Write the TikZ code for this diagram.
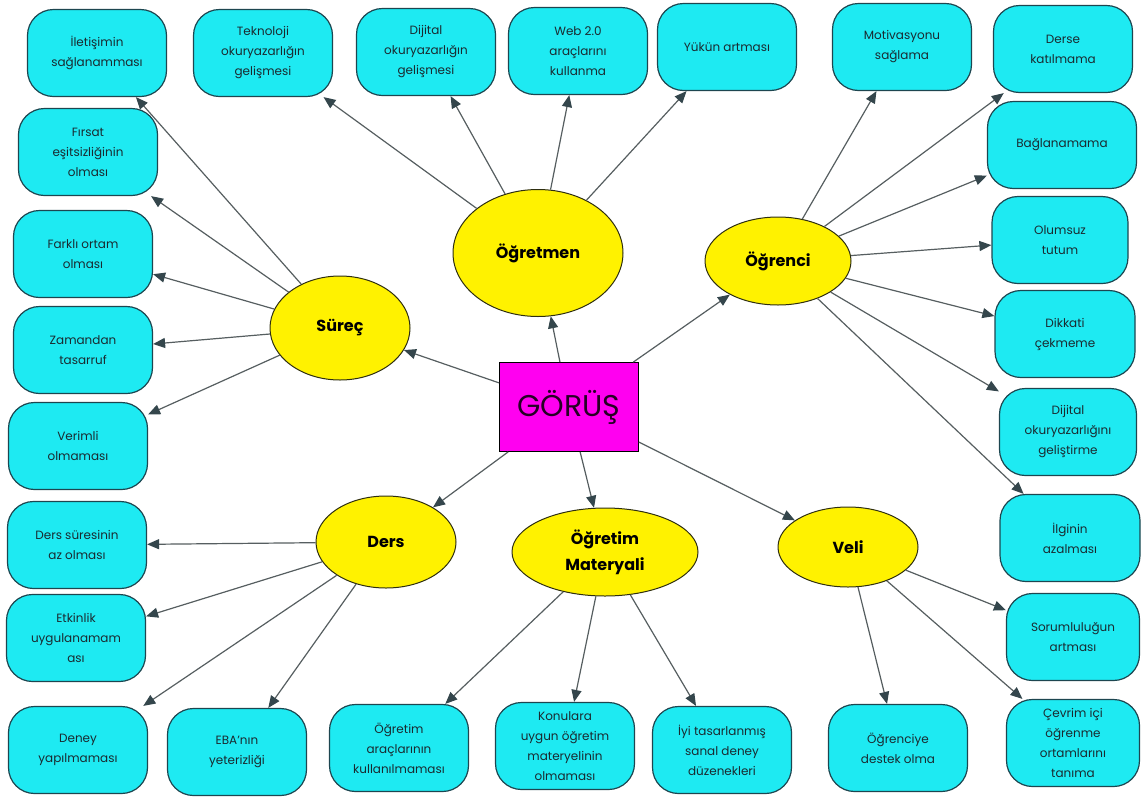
\documentclass[tikz,border=0pt]{standalone}
\usepackage{fontspec}
\setmainfont{Poppins}
\usetikzlibrary{shapes.geometric,arrows.meta}
\definecolor{boxfill}{HTML}{1EEAF2}
\definecolor{boxdraw}{HTML}{1D4650}
\definecolor{ellfill}{HTML}{FFF200}
\definecolor{elldraw}{HTML}{2E2E10}
\definecolor{mag}{HTML}{FF00F0}
\definecolor{linec}{HTML}{565E60}
\definecolor{tipc}{HTML}{34464C}
\definecolor{txtc}{HTML}{1A2A30}
\tikzset{
  leaf/.style={draw=boxdraw, fill=boxfill, line width=1.2pt, rounded corners=26pt,
    minimum width=#1, minimum height=87pt, align=center, inner sep=2pt,
    font=\fontsize{12}{20}\selectfont, text=txtc},
  leaf/.default=139pt,
  topic/.style={ellipse, draw=elldraw, fill=ellfill, line width=1pt, align=center,
    inner sep=0pt, font=\fontsize{16}{26}\selectfont\bfseries, text=black},
  conn/.style={draw=linec, line width=1.2pt,
    -{Triangle[length=12pt,width=10pt,fill=tipc,color=tipc]}}
}
\begin{document}
\begin{tikzpicture}[x=1pt,y=-1pt]
\useasboundingbox (0,0) rectangle (1141,796);
% centre
\node[draw=black, fill=mag, line width=0.8pt, minimum width=139pt, minimum height=89pt,
  font=\fontsize{30}{34}\selectfont, text=black!85!mag] (g) at (569,407) {GÖRÜŞ};
% topics
\node[topic, minimum width=170pt, minimum height=127pt] (ogt) at (538,253) {Öğretmen};
\node[topic, minimum width=146pt, minimum height=88pt] (ogr) at (778,261) {Öğrenci};
\node[topic, minimum width=140pt, minimum height=104pt] (sur) at (340,328) {Süreç};
\node[topic, minimum width=140pt, minimum height=92pt] (ders) at (386,542) {Ders};
\node[topic, minimum width=186pt, minimum height=88pt] (mat) at (605,552) {Öğretim\\Materyali};
\node[topic, minimum width=140pt, minimum height=80pt] (veli) at (848,547) {Veli};
% left column
\node[leaf] (l1) at (97,53) {İletişimin\\sağlanamması};
\node[leaf] (l2) at (88,152) {Fırsat\\eşitsizliğinin\\olması};
\node[leaf] (l3) at (83,254) {Farklı ortam\\olması};
\node[leaf] (l4) at (83,350) {Zamandan\\tasarruf};
\node[leaf] (l5) at (78,446) {Verimli\\olmaması};
\node[leaf] (l6) at (77,545) {Ders süresinin\\az olması};
\node[leaf] (l7) at (76,638) {Etkinlik\\uygulanamam\\ası};
% bottom row
\node[leaf] (b1) at (78,750) {Deney\\yapılmaması};
\node[leaf] (b2) at (237,752) {EBA'nın\\yeterizliği};
\node[leaf] (b3) at (399,748) {Öğretim\\araçlarının\\kullanılmaması};
\node[leaf] (b4) at (565,746) {Konulara\\uygun öğretim\\materyelinin\\olmaması};
\node[leaf] (b5) at (722,750) {İyi tasarlanmış\\sanal deney\\düzenekleri};
\node[leaf] (b6) at (898,748) {Öğrenciye\\destek olma};
% top row
\node[leaf] (t1) at (263,53) {Teknoloji\\okuryazarlığın\\gelişmesi};
\node[leaf] (t2) at (426,52) {Dijital\\okuryazarlığın\\gelişmesi};
\node[leaf] (t3) at (578,51) {Web 2.0\\araçlarını\\kullanma};
\node[leaf] (t4) at (727,47) {Yükün artması};
\node[leaf] (t5) at (902,47) {Motivasyonu\\sağlama};
% right column
\node[leaf] (r1) at (1063,49) {Derse\\katılmama};
\node[leaf=149pt] (r2) at (1062,145) {Bağlanamama};
\node[leaf=136pt] (r3) at (1060,240) {Olumsuz\\tutum};
\node[leaf=140pt] (r4) at (1065,334) {Dikkati\\çekmeme};
\node[leaf=137pt] (r5) at (1068,432) {Dijital\\okuryazarlığını\\geliştirme};
\node[leaf=140pt] (r6) at (1070,538) {İlginin\\azalması};
\node[leaf=133pt] (r7) at (1073,637) {Sorumluluğun\\artması};
\node[leaf=133pt] (r8) at (1073,743) {Çevrim içi\\öğrenme\\ortamlarını\\tanıma};
% connectors
\foreach \t in {sur,ogt,ogr,ders,mat,veli} \draw[conn] (g) -- (\t);
\foreach \t in {l1,l2,l3,l4,l5} \draw[conn] (sur) -- (\t);
\foreach \t in {t1,t2,t3,t4} \draw[conn] (ogt) -- (\t);
\foreach \t in {t5,r1,r2,r3,r4,r5,r6} \draw[conn] (ogr) -- (\t);
\foreach \t in {l6,l7,b1,b2} \draw[conn] (ders) -- (\t);
\foreach \t in {b3,b4,b5} \draw[conn] (mat) -- (\t);
\foreach \t in {r7,b6,r8} \draw[conn] (veli) -- (\t);
\end{tikzpicture}
\end{document}
